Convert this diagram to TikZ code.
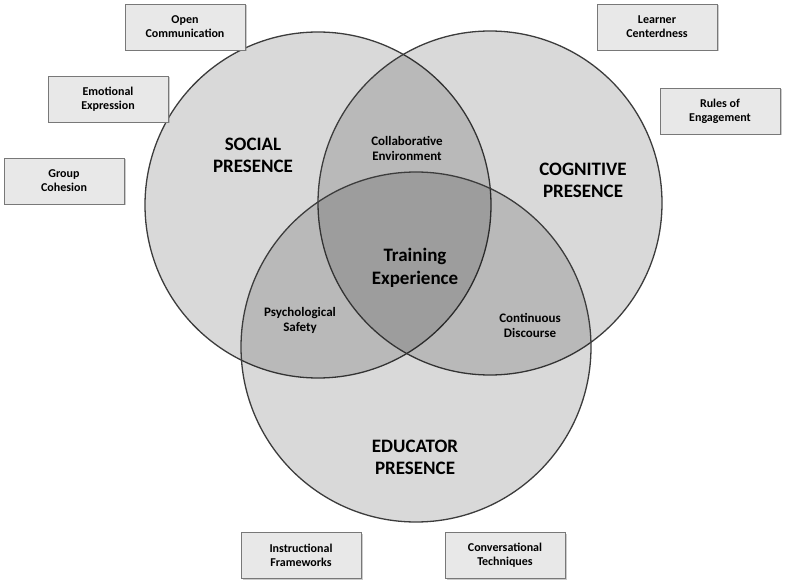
\documentclass[tikz,border=0pt]{standalone}
\usepackage{fontspec}
\setmainfont{Carlito}
\usetikzlibrary{positioning,shadows}
\definecolor{ring-line}{RGB}{60,60,60}
\definecolor{box-fill}{RGB}{232,232,232}
\definecolor{box-line}{RGB}{120,120,120}
\tikzset{every node/.style={font=\normalfont}}

\begin{document}
\begin{tikzpicture}[
  x=1pt, y=-1pt,
  ring/.style={draw=ring-line, line width=1.3pt, fill=black, fill opacity=0.15},
  title/.style={font=\bfseries\fontsize{19}{22}\selectfont, align=center, text=black},
  overlap/.style={font=\bfseries\fontsize{13}{15}\selectfont, align=center},
  tag/.style={draw=box-line, fill=box-fill, font=\bfseries\fontsize{12}{14}\selectfont,
    align=center, minimum width=120pt, minimum height=46pt,
    drop shadow={shadow xshift=1.5pt, shadow yshift=-1.5pt, opacity=0.4}}
]
\useasboundingbox (0,0) rectangle (798,588);

% Circles
\draw[ring] (318,205) circle (173);
\draw[ring] (490,203) circle (172);
\draw[ring] (416,347) circle (175);

% Circle titles
\node[title] (social) at (253,155) {SOCIAL\\PRESENCE};
\node[title] (cognitive) at (583,180) {COGNITIVE\\PRESENCE};
\node[title] (educator) at (415,457) {EDUCATOR\\PRESENCE};

% Overlaps
\node[overlap] (collab) at (407,148) {Collaborative\\Environment};
\node[overlap] (psych) at (300,320) {Psychological\\Safety};
\node[overlap] (discourse) at (530,325) {Continuous\\Discourse};
\node[font=\bfseries\fontsize{19}{23}\selectfont, align=center] (training) at (415,268) {Training\\Experience};

% Side boxes
\node[tag] (open) at (185,27) {Open\\Communication};
\node[tag] (emotional) at (108,99) {Emotional\\Expression};
\node[tag] (cohesion) at (64,181) {Group\\Cohesion};
\node[tag] (learner) at (657,27) {Learner\\Centerdness};
\node[tag] (rules) at (720,111) {Rules of\\Engagement};
\node[tag] (instr) at (301,555) {Instructional\\Frameworks};
\node[tag] (conv) at (505,555) {Conversational\\Techniques};

\end{tikzpicture}
\end{document}
